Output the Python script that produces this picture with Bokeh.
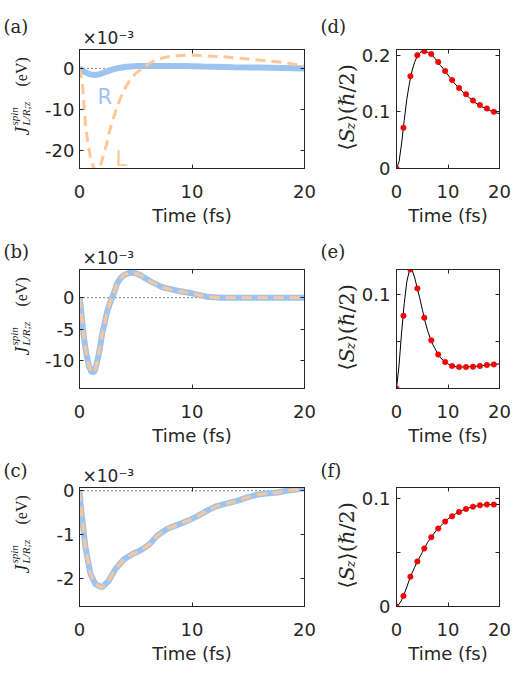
import numpy as np
from bokeh.plotting import figure
from bokeh.models import Range1d, LinearAxis, FixedTicker, Label, Span
from bokeh.layouts import row, column
from bokeh.embed import file_html
from bokeh.resources import INLINE

# ---------------- data ----------------
time_ticks = [0, 10, 20]

# (a) spin current, R (solid blue) and L (dashed orange), x1e-3 eV
a_R_t = [0, 0.3, 0.7, 1.0, 1.4, 1.8, 2.2, 2.6, 3.0, 3.5, 4.2, 5.0, 6.3, 8.0, 9.3, 11.0, 13.7, 16.0, 18.0, 20.0]
a_R = [0, -0.6, -1.2, -1.5, -1.6, -1.4, -1.0, -0.6, -0.2, 0.1, 0.4, 0.55, 0.6, 0.6, 0.55, 0.45, 0.3, 0.2, 0.1, 0.0]
a_L_t = [0, 0.24, 0.53, 0.75, 0.98, 1.25, 1.57, 1.8, 2.0, 2.4, 2.76, 3.2, 3.64, 4.1, 4.5, 5.0, 5.6, 6.1, 6.6,
         7.2, 7.8, 8.7, 9.6, 10.5, 11.3, 12.5, 13.7, 15.0, 16.1, 17.2, 18.2, 19.1, 20.0]
a_L = [0, -3.2, -13.6, -18.5, -21.6, -24.2, -25.0, -24.2, -22.4, -18.5, -14.4, -10.5, -7.2, -4.6, -2.8, -1.2, 0.0,
       1.0, 1.8, 2.4, 2.8, 3.1, 3.2, 3.2, 3.0, 2.9, 2.6, 2.3, 2.0, 1.7, 1.4, 1.0, 0.6]

# (b) R and L coincide
b_t = [0, 0.12, 0.24, 0.4, 0.62, 0.85, 1.1, 1.35, 1.57, 1.8, 2.0, 2.25, 2.46, 2.7, 2.9, 3.15, 3.35, 3.65, 3.94,
       4.5, 5.0, 5.4, 6.3, 7.0, 7.5, 8.7, 10.0, 11.3, 12.5, 14.0, 16.0, 18.0, 20.0]
b_R = [0, -1.5, -3.8, -6.5, -9.1, -11.0, -12.0, -11.7, -10.2, -8.2, -5.9, -3.9, -2.2, -0.9, 0.0, 1.2, 2.3, 3.1,
       3.6, 4.0, 3.9, 3.6, 2.6, 2.0, 1.6, 1.1, 0.7, 0.16, 0.0, 0.0, 0.0, 0.0, 0.0]
b_L = list(b_R)

# (c) R and L coincide
c_t = [0, 0.1, 0.24, 0.53, 0.98, 1.42, 2.0, 2.6, 3.2, 3.94, 4.7, 5.4, 6.2, 6.9, 7.8, 8.7, 9.6, 10.5, 11.3, 12.2,
       13.1, 14.0, 14.9, 15.8, 16.7, 17.6, 18.4, 19.3, 20.0]
c_R = [0, -0.3, -0.63, -1.30, -1.91, -2.14, -2.21, -2.06, -1.79, -1.57, -1.45, -1.37, -1.23, -1.03, -0.87, -0.78,
       -0.69, -0.58, -0.46, -0.35, -0.29, -0.23, -0.15, -0.09, -0.06, -0.04, 0.0, 0.03, 0.07]
c_L = list(c_R)

# (d)-(f) <S_z> : line and dots
dot_t = [0, 1.35, 2.7, 4.05, 5.4, 6.75, 8.1, 9.45, 10.8, 12.15, 13.5, 14.85, 16.2, 17.55, 18.9]

d_line_t = [0, 0.5, 1.0, 1.5, 2.0, 2.5, 3.0, 3.5, 4.0, 4.5, 5.0, 5.5, 6.0, 6.5, 7.0, 7.5, 8.0, 8.5, 9.0, 9.5, 10,
            11, 12, 13, 14, 15, 16, 17, 18, 19, 20]
d_line = [0, 0.012, 0.045, 0.085, 0.122, 0.150, 0.172, 0.187, 0.198, 0.204, 0.207, 0.207, 0.205, 0.203, 0.199,
          0.194, 0.188, 0.182, 0.177, 0.171, 0.165, 0.153, 0.143, 0.134, 0.126, 0.118, 0.112, 0.107, 0.103,
          0.099, 0.097]
d_dots = [0, 0.0718, 0.163, 0.200, 0.207, 0.202, 0.188, 0.172, 0.156, 0.142, 0.131, 0.120, 0.112, 0.106, 0.100]

e_line_t = [0, 0.5, 1.0, 1.5, 2.0, 2.5, 2.8, 3.0, 3.5, 4.0, 4.5, 5.0, 5.5, 6.0, 6.5, 7.0, 7.5, 8.0, 8.5, 9.0, 9.5,
            10, 10.5, 11, 12, 13, 14, 15, 16, 17, 18, 19, 20]
e_line = [0, 0.025, 0.060, 0.090, 0.113, 0.125, 0.127, 0.126, 0.118, 0.107, 0.096, 0.084, 0.072, 0.062, 0.054,
          0.047, 0.042, 0.037, 0.033, 0.030, 0.028, 0.026, 0.0245, 0.0235, 0.0228, 0.0227, 0.0229, 0.0233,
          0.0238, 0.0245, 0.025, 0.0256, 0.026]
e_dots = [0, 0.077, 0.126, 0.106, 0.075, 0.051, 0.036, 0.028, 0.0238, 0.0227, 0.0227, 0.023, 0.0238, 0.0248,
          0.0255]

f_line_t = [0, 0.5, 1.0, 1.35, 2.0, 2.7, 3.5, 4.05, 5.0, 5.4, 6.0, 6.75, 7.5, 8.1, 9.0, 9.45, 10, 10.8, 11.5,
            12.15, 13, 13.5, 14.5, 14.85, 16, 17, 18, 19, 20]
f_line = [0, 0.002, 0.006, 0.0098, 0.018, 0.0276, 0.036, 0.0417, 0.050, 0.0537, 0.059, 0.0641, 0.069, 0.0721,
          0.0765, 0.0785, 0.081, 0.0834, 0.0858, 0.0874, 0.0893, 0.0902, 0.0918, 0.0923, 0.0934, 0.094, 0.0942,
          0.0943, 0.0943]
f_dots = [0, 0.0098, 0.0276, 0.0417, 0.0537, 0.0641, 0.0721, 0.0785, 0.0834, 0.0874, 0.0902, 0.0923, 0.0936,
          0.0942, 0.0942]

# ---------------- styling ----------------
SANS = "DejaVu Sans"
SERIF = "Liberation Serif"
DSERIF = "DejaVu Serif"
TXT = "#262626"
BLUE = "#9DC3F0"
ORANGE = "#FFC796"
FH = 120                       # frame height
BB = 62                        # bottom border
# (top border, letter standoff) per row; frames sit at page y 48, 268, 486
ROWS = [(48, 26), (38, 16), (36, 14)]


def style_axis(ax, ticks, overrides, show_labels=True, standoff=4):
    ax.ticker = FixedTicker(ticks=ticks)
    ax.major_label_overrides = overrides if show_labels else {t: "" for t in ticks}
    ax.major_tick_in = 4
    ax.major_tick_out = 0
    ax.minor_tick_line_color = None
    ax.axis_line_color = TXT
    ax.major_tick_line_color = TXT
    ax.major_label_standoff = standoff if show_labels else 0
    ax.major_label_text_font = SANS
    ax.major_label_text_color = TXT
    ax.major_label_text_font_size = "18px" if show_labels else "1px"


def make_fig(width, bl, br, bt, yr, yticks, ylabels, ystand):
    p = figure(width=width, height=bt + FH + BB, output_backend="svg", toolbar_location=None,
               x_range=Range1d(0, 20), y_range=Range1d(*yr),
               min_border_left=bl, min_border_right=br, min_border_top=bt, min_border_bottom=BB)
    p.grid.visible = False
    p.outline_line_color = TXT
    xl = {t: str(t) for t in time_ticks}
    style_axis(p.xaxis[0], time_ticks, xl, standoff=16)
    style_axis(p.yaxis[0], yticks, ylabels, standoff=ystand)
    p.xaxis[0].axis_label = "Time (fs)"
    p.xaxis[0].axis_label_standoff = 4
    p.xaxis[0].axis_label_text_font = SANS
    p.xaxis[0].axis_label_text_font_size = "18px"
    p.xaxis[0].axis_label_text_font_style = "normal"
    p.xaxis[0].axis_label_text_color = TXT
    top = LinearAxis()
    style_axis(top, time_ticks, {}, show_labels=False)
    right = LinearAxis()
    style_axis(right, yticks, {}, show_labels=False)
    p.add_layout(top, "above")
    p.add_layout(right, "right")
    return p


def text_fig(width, bt, letter, offset, standoff):
    # narrow text-only figure whose frame lines up with the plots of its row
    p = figure(width=width, height=bt + FH + BB, output_backend="svg", toolbar_location=None,
               x_range=Range1d(0, width), y_range=Range1d(0, FH),
               min_border_left=0, min_border_right=0, min_border_top=bt, min_border_bottom=BB,
               x_axis_type=None, y_axis_type=None)
    p.grid.visible = False
    p.outline_line_color = None
    p.title.text = letter
    p.title.align = "left"
    p.title.offset = offset
    p.title.standoff = standoff
    p.title.text_font = DSERIF
    p.title.text_font_size = "18px"
    p.title.text_font_style = "normal"
    p.title.text_color = TXT
    return p


def lab(p, x, y, text, size, font=SANS, style="normal", color=TXT, angle=0.0, align="left"):
    p.add_layout(Label(x=x, y=y, x_units="screen", y_units="screen", text=text, text_font=font,
                       text_font_size=f"{size}px", text_font_style=style, text_color=color,
                       angle=angle, angle_units="rad", text_align=align, text_baseline="alphabetic"))


A90 = np.pi / 2


def left_panel(i, letter, yr, yticks, ylabels, R_t, R, L_t, L, legend=False):
    bt, so = ROWS[i]
    # text column (page x 0..42); label y measured up from the frame bottom
    t = text_fig(42, bt, letter, 3, so)
    lab(t, 21, FH - 87, "J", 20, font=SERIF, style="italic", angle=A90)
    lab(t, 13, FH - 77, "spin", 11, font=SERIF, style="italic", angle=A90)
    lab(t, 25, FH - 77, "L/R;z", 11, font=SERIF, style="italic", angle=A90)
    lab(t, 21, FH - 38, "(eV)", 16, font=SERIF, angle=A90)
    # plot (page x 42..318)
    p = make_fig(276, 37, 14, bt, yr, yticks, ylabels, 5)
    p.title.text = "\u00d710\u207b\u00b3"
    p.title.align = "left"
    p.title.offset = 3
    p.title.standoff = 3
    p.title.text_font = SANS
    p.title.text_font_size = "17px"
    p.title.text_font_style = "normal"
    p.title.text_color = TXT
    p.add_layout(Span(location=0, dimension="width", line_color="black", line_width=1,
                      line_dash="1 3", level="underlay"))
    p.line(R_t, R, line_color=BLUE, line_width=6)
    p.line(L_t, L, line_color=ORANGE, line_width=3, line_dash="10 6")
    if legend:
        lab(p, 18, 72, "R", 21, color=BLUE)
        lab(p, 36, 10, "L", 21, color=ORANGE)
    return t, p


def right_panel(i, letter, yr, yticks, ylabels, line_t, line, dots):
    bt, so = ROWS[i]
    # text column (page x 318..358)
    t = text_fig(40, bt, letter, 2, so)
    x0 = 28
    lab(t, x0, FH - 102, "\u27e8", 21, font=DSERIF, angle=A90)
    lab(t, x0, FH - 94, "S", 21, font=DSERIF, style="italic", angle=A90)
    lab(t, x0 + 4, FH - 81, "z", 13, font=DSERIF, style="italic", angle=A90)
    lab(t, x0, FH - 74, "\u27e9(\u210f/2)", 21, font=DSERIF, angle=A90)
    # plot (page x 358..517)
    p = make_fig(159, 36, 18, bt, yr, yticks, ylabels, 6)
    p.title = None
    p.line(line_t, line, line_color="black", line_width=1)
    p.scatter(dot_t, dots, size=5.5, fill_color="#FF0000", line_color="#E00000", line_width=0.5)
    return t, p


ta, pa = left_panel(0, "(a)", (-24.4, 4.6), [-20, -10, 0], {-20: "-20", -10: "-10", 0: "0"},
                    a_R_t, a_R, a_L_t, a_L, legend=True)
tb, pb = left_panel(1, "(b)", (-14.5, 4.5), [-10, -5, 0], {-10: "-10", -5: "-5", 0: "0"},
                    b_t, b_R, b_t, b_L)
tc, pc = left_panel(2, "(c)", (-2.65, 0.075), [-2, -1, 0], {-2: "-2", -1: "-1", 0: "0"},
                    c_t, c_R, c_t, c_L)

td, pd = right_panel(0, "(d)", (0, 0.21), [0, 0.1, 0.2], {0: "0", 0.1: "0.1", 0.2: "0.2"},
                     d_line_t, d_line, d_dots)
te, pe = right_panel(1, "(e)", (0, 0.126), [0.05, 0.1], {0.05: "", 0.1: "0.1"},
                     e_line_t, e_line, e_dots)
tf, pf = right_panel(2, "(f)", (0, 0.11), [0, 0.05, 0.1], {0: "0", 0.05: "", 0.1: "0.1"},
                     f_line_t, f_line, f_dots)

layout = column(row(ta, pa, td, pd), row(tb, pb, te, pe), row(tc, pc, tf, pf))
open("out.html", "w").write(file_html(layout, INLINE))
